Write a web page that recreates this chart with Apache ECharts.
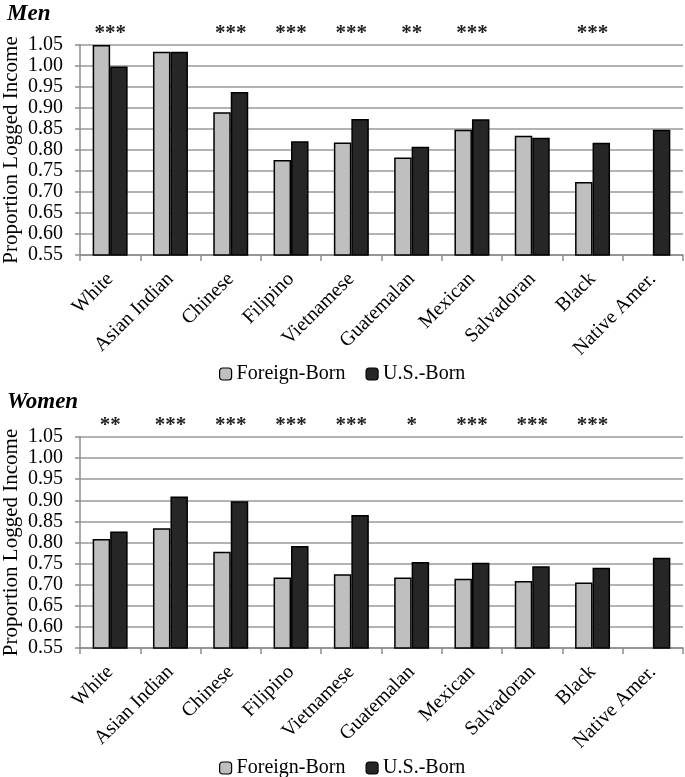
<!DOCTYPE html>
<html>
<head>
<meta charset="utf-8">
<script src="https://cdn.jsdelivr.net/npm/echarts@6/dist/echarts.min.js"></script>
<style>
html,body{margin:0;padding:0;background:#fff;}
#c{width:685px;height:777px;}
</style>
</head>
<body>
<div id="c"></div>
<script>
const categories = ['White','Asian Indian','Chinese','Filipino','Vietnamese','Guatemalan','Mexican','Salvadoran','Black','Native Amer.'];
const menForeign = [1.05, 1.034, 0.890, 0.776, 0.818, 0.782, 0.848, 0.834, 0.724, null];
const menUS      = [0.999, 1.034, 0.938, 0.821, 0.874, 0.808, 0.873, 0.829, 0.817, 0.848];
const womenForeign = [0.808, 0.834, 0.778, 0.717, 0.725, 0.717, 0.714, 0.709, 0.705, null];
const womenUS      = [0.826, 0.909, 0.898, 0.792, 0.865, 0.754, 0.752, 0.744, 0.740, 0.764];
const menStars   = ['***','','***','***','***','**','***','','***',''];
const womenStars = ['**','***','***','***','***','*','***','***','***',''];
const yTicks = [0.55,0.60,0.65,0.70,0.75,0.80,0.85,0.90,0.95,1.00,1.05];

const FONT = '"Liberation Serif","Times New Roman",serif';
const chart = echarts.init(document.getElementById('c'), null, {renderer:'canvas'});

function xAxes(gi, stars){
  return [
    {type:'category', gridIndex:gi, data:categories, position:'bottom',
     axisLine:{show:true, lineStyle:{color:'#8c8c8c', width:1.5}},
     axisTick:{show:true, alignWithLabel:false, length:6, lineStyle:{color:'#8c8c8c', width:1.5}},
     axisLabel:{rotate:45, margin:21, fontFamily:FONT, fontSize:20, color:'#000', interval:0}},
    {type:'category', gridIndex:gi, data:stars, position:'top',
     axisLine:{show:false}, axisTick:{show:false}, splitLine:{show:false},
     axisLabel:{margin:1, fontFamily:FONT, fontSize:21, fontWeight:'bold', color:'#222', interval:0}}
  ];
}
function yAxis(gi){
  return {type:'value', gridIndex:gi, min:yTicks[0], max:yTicks[yTicks.length-1], interval:0.05,
    name:'Proportion Logged Income', nameLocation:'middle', nameGap:58, nameMoveOverlap:false,
    nameTextStyle:{fontFamily:FONT, fontSize:21, color:'#000'},
    axisLine:{show:true, lineStyle:{color:'#8c8c8c', width:1.5}},
    axisTick:{show:true, length:5, lineStyle:{color:'#8c8c8c', width:1.5}},
    axisLabel:{margin:17, fontFamily:FONT, fontSize:20, color:'#000', formatter:v=>v.toFixed(2)},
    splitLine:{show:true, lineStyle:{color:'#9a9a9a', width:1.5}}};
}
function bar(name, data, xi, yi, color){
  return {type:'bar', name:name, data:data, xAxisIndex:xi, yAxisIndex:yi,
    barGap:'0%', barCategoryGap:'42%', clip:true,
    itemStyle:{color:color, borderColor:'#000', borderWidth:1.5}};
}
const legendBase = {
  itemWidth:12, itemHeight:12, itemGap:20,
  textStyle:{fontFamily:FONT, fontSize:20, color:'#000'},
  data:['Foreign-Born','U.S.-Born'],
  itemStyle:{borderColor:'#000', borderWidth:1.2}
};

chart.setOption({
  animation:false,
  backgroundColor:'#fff',
  title:[
    {text:'Men', left:2, top:-2, textStyle:{fontFamily:FONT, fontSize:23, fontWeight:'bold', fontStyle:'italic', color:'#000'}},
    {text:'Women', left:2, top:386, textStyle:{fontFamily:FONT, fontSize:23, fontWeight:'bold', fontStyle:'italic', color:'#000'}}
  ],
  legend:[
    Object.assign({left:214, top:359}, legendBase),
    Object.assign({left:214, top:753}, legendBase)
  ],
  grid:[
    {left:80, right:2, top:45, height:210, containLabel:false, outerBoundsMode:'none'},
    {left:80, right:2, top:437, height:211, containLabel:false, outerBoundsMode:'none'}
  ],
  xAxis:[].concat(xAxes(0, menStars), xAxes(1, womenStars)),
  yAxis:[yAxis(0), yAxis(1)],
  series:[
    bar('Foreign-Born', menForeign, 0, 0, '#bfbfbf'),
    bar('U.S.-Born', menUS, 0, 0, '#262626'),
    bar('Foreign-Born', womenForeign, 2, 1, '#bfbfbf'),
    bar('U.S.-Born', womenUS, 2, 1, '#262626')
  ]
});
</script>
</body>
</html>
